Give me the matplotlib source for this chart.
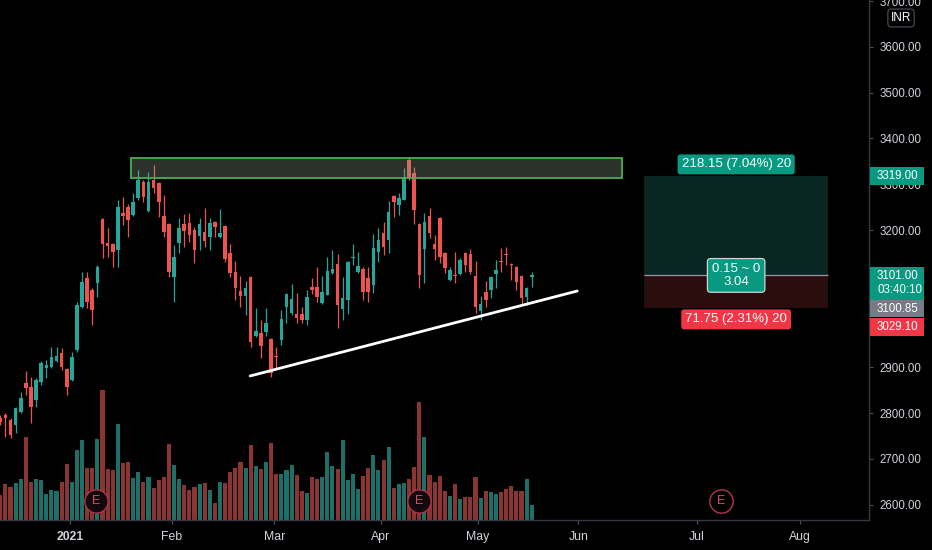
import matplotlib
matplotlib.use('Agg')
import matplotlib.pyplot as plt
import matplotlib.transforms as mtransforms
from matplotlib.patches import Rectangle
from matplotlib.ticker import FormatStrFormatter
import numpy as np

# ---------------------------------------------------------------- data
# daily candles, mid Dec 2020 -> mid May 2021
opens = [2790, 2796, 2785, 2774, 2803, 2866, 2857, 2829, 2868, 2899,
         2901, 2914, 2931, 2897, 2872, 2938, 3032, 3095, 3069, 3084,
         3224, 3172, 3169, 3156, 3237, 3250, 3233, 3270, 3305, 3241,
         3309, 3303, 3231, 3213, 3097, 3172, 3213, 3215, 3200, 3187,
         3196, 3185, 3217, 3185, 3209, 3150, 3108, 3067, 3056, 3097,
         2969, 2975, 2977, 2962, 2925, 2960, 3032, 3019, 3017, 3017,
         3003, 3076, 3076, 3041, 3058, 3106, 3126, 3027, 3047, 3139,
         3108, 3115, 3095, 3080, 3152, 3193, 3178, 3274, 3255, 3265,
         3353, 3324, 3213, 3158, 3231, 3169, 3226, 3150, 3091, 3102,
         3104, 3150, 3148, 3100, 3023, 3065, 3069, 3104, 3132, 3148,
         3126, 3119, 3100, 3054, 3097]
highs = [2796, 2800, 2789, 2813, 2846, 2892, 2879, 2877, 2914, 2916,
         2945, 2945, 2942, 2899, 2934, 3043, 3108, 3108, 3073, 3124,
         3226, 3204, 3172, 3265, 3272, 3257, 3281, 3331, 3309, 3327,
         3342, 3305, 3276, 3215, 3167, 3226, 3235, 3237, 3206, 3226,
         3248, 3226, 3220, 3246, 3210, 3169, 3132, 3100, 3089, 3099,
         3030, 3003, 3030, 2964, 2945, 3025, 3062, 3082, 3062, 3032,
         3069, 3095, 3119, 3100, 3141, 3156, 3148, 3097, 3132, 3169,
         3152, 3119, 3119, 3191, 3204, 3217, 3263, 3276, 3281, 3335,
         3360, 3337, 3215, 3237, 3248, 3189, 3228, 3152, 3119, 3152,
         3139, 3152, 3158, 3132, 3056, 3089, 3100, 3134, 3161, 3163,
         3128, 3121, 3101, 3076, 3108]
lows = [2774, 2748, 2746, 2757, 2800, 2840, 2779, 2814, 2862, 2877,
        2899, 2912, 2894, 2840, 2870, 2934, 3030, 3030, 2993, 3054,
        3139, 3141, 3119, 3119, 3211, 3185, 3231, 3265, 3261, 3239,
        3281, 3228, 3185, 3097, 3043, 3150, 3163, 3174, 3128, 3156,
        3163, 3156, 3185, 3182, 3130, 3097, 3047, 3032, 3014, 2945,
        2966, 2921, 2969, 2879, 2899, 2949, 2997, 3014, 2997, 2997,
        2993, 3060, 3043, 3038, 3058, 3104, 2986, 3003, 3017, 3124,
        3106, 3047, 3043, 3062, 3130, 3145, 3150, 3228, 3233, 3265,
        3309, 3213, 3073, 3084, 3182, 3134, 3128, 3106, 3089, 3084,
        3102, 3108, 3104, 3019, 3003, 3032, 3052, 3073, 3108, 3124,
        3091, 3069, 3038, 3036, 3076]
closes = [2781, 2790, 2752, 2811, 2833, 2855, 2814, 2872, 2910, 2905,
          2923, 2925, 2901, 2857, 2923, 3036, 3086, 3043, 3025, 3119,
          3169, 3165, 3152, 3250, 3231, 3222, 3261, 3309, 3272, 3305,
          3292, 3261, 3196, 3108, 3141, 3204, 3198, 3189, 3156, 3213,
          3176, 3215, 3206, 3193, 3137, 3106, 3073, 3056, 3073, 2955,
          2980, 2947, 2997, 2888, 2923, 3006, 3060, 3049, 3008, 3003,
          3054, 3069, 3054, 3065, 3110, 3115, 3036, 3052, 3130, 3141,
          3121, 3065, 3065, 3161, 3178, 3163, 3239, 3261, 3270, 3316,
          3313, 3244, 3102, 3217, 3193, 3158, 3141, 3117, 3113, 3100,
          3134, 3124, 3108, 3032, 3038, 3047, 3097, 3113, 3130, 3145,
          3124, 3086, 3052, 3073, 3101]
volume = [75, 107, 100, 110, 123, 250, 115, 123, 120, 77,
          90, 87, 113, 168, 113, 210, 240, 155, 155, 244,
          390, 152, 150, 287, 172, 175, 125, 145, 115, 128,
          95, 120, 128, 228, 165, 123, 105, 90, 98, 107,
          112, 90, 50, 115, 112, 145, 155, 175, 155, 225,
          162, 152, 175, 230, 138, 138, 150, 165, 135, 87,
          82, 128, 123, 128, 205, 162, 152, 240, 120, 138,
          93, 132, 155, 195, 150, 180, 220, 97, 107, 110,
          123, 158, 355, 250, 135, 113, 132, 87, 72, 107,
          63, 70, 70, 128, 67, 87, 83, 77, 83, 93,
          103, 87, 87, 123, 44]

# month ticks (bar index of first session, future ones extrapolated)
month_labels = ['2021', 'Feb', 'Mar', 'Apr', 'May', 'Jun', 'Jul', 'Aug']
month_pos = [13.6, 33.6, 53.6, 74.5, 93.5, 113.1, 136.3, 156.5]
earnings_pos = [18.8, 82.0, 141.0]

# drawings
zone_x = [25.6, 121.7]
zone_price = [3313.5, 3357.2]
trend_x = [48.9, 112.9]
trend_price = [2881.3, 3066.8]

# long position tool
pos_x = [126.0, 162.0]
entry = 3100.85
target = 3319.00
stop = 3029.10
last_price = 3101.00
countdown = '03:40:10'
qty = 20

price_ticks = list(range(2600, 3800, 100))

# ---------------------------------------------------------------- style
W, H = 932, 550
BG = 'black'
UP, DOWN = '#26a69a', '#ef5350'
UP_VOL, DOWN_VOL = '#1d6f67', '#8a3532'
TXT = '#d1d4dc'
AXFS = 8.3
plt.rcParams['font.family'] = ['Liberation Sans', 'DejaVu Sans']

fig = plt.figure(figsize=(W / 100, H / 100), dpi=100, facecolor=BG)
rect = [0, (H - 520) / H, 869 / W, 520 / H]
axv = fig.add_axes(rect, zorder=0)
ax = fig.add_axes(rect, zorder=1, sharex=axv)
ax.patch.set_alpha(0)
axv.set_facecolor(BG)

n = len(closes)
x = np.arange(n)
o = np.array(opens, float)
h = np.array(highs, float)
l = np.array(lows, float)
c = np.array(closes, float)
up = c >= o
cols = np.where(up, UP, DOWN)

# volume pane (overlay, bottom)
axv.bar(x, volume, width=0.8, color=np.where(up, UP_VOL, DOWN_VOL), linewidth=0)
axv.set_ylim(0, 1560)
axv.axis('off')

# candles
ax.vlines(x, l, h, colors=cols, linewidth=0.9, zorder=2)
body = np.maximum(np.abs(c - o), 2.2)
ax.bar(x, body, bottom=np.minimum(o, c), width=0.7, color=cols, linewidth=0, zorder=3)

# resistance zone
ax.add_patch(Rectangle((zone_x[0], zone_price[0]), zone_x[1] - zone_x[0], zone_price[1] - zone_price[0],
                       facecolor=(0.55, 0.65, 0.55, 0.3), edgecolor='#4caf50', linewidth=1.3, zorder=4))
# rising trend line
ax.plot(trend_x, trend_price, color='white', linewidth=2, solid_capstyle='round', zorder=4)

# position tool
ax.add_patch(Rectangle((pos_x[0], entry), pos_x[1] - pos_x[0], target - entry,
                       facecolor='#0a2623', linewidth=0, zorder=1))
ax.add_patch(Rectangle((pos_x[0], stop), pos_x[1] - pos_x[0], entry - stop,
                       facecolor='#2a0e0e', linewidth=0, zorder=1))
ax.hlines(entry, pos_x[0], pos_x[1], color='#9598a1', linewidth=0.9, zorder=2)
mid = (pos_x[0] + pos_x[1]) / 2
ax.annotate(f'{target - entry:.2f} ({(target - entry) / entry * 100:.2f}%) {qty}', (mid, target),
            xytext=(0, 8), textcoords='offset points', ha='center', va='center', color='white',
            fontsize=9.5, zorder=6,
            bbox=dict(boxstyle='round,pad=0.3,rounding_size=0.2', facecolor='#089981', edgecolor='none'))
ax.annotate(f'{entry - stop:.2f} ({(entry - stop) / entry * 100:.2f}%) {qty}', (mid, stop),
            xytext=(0, -8), textcoords='offset points', ha='center', va='center', color='white',
            fontsize=9.5, zorder=6,
            bbox=dict(boxstyle='round,pad=0.3,rounding_size=0.2', facecolor='#f23645', edgecolor='none'))
ax.annotate(f'{last_price - entry:.2f} ~ 0\n{(target - entry) / (entry - stop):.2f}', (mid, entry),
            ha='center', va='center', color='white', fontsize=9.5, linespacing=1.05, zorder=6,
            bbox=dict(boxstyle='round,pad=0.35,rounding_size=0.25', facecolor='#089981',
                      edgecolor='#d1d4dc', linewidth=0.9))

# earnings markers
blend = mtransforms.blended_transform_factory(ax.transData, ax.transAxes)
for ex in earnings_pos:
    face = '#14080c' if ex < n else BG
    ax.plot([ex], [0.0365], marker='o', markersize=16.8, markerfacecolor=face,
            markeredgecolor='#b3344f', markeredgewidth=1.0, linestyle='none',
            transform=blend, clip_on=False, zorder=5)
    ax.text(ex, 0.0365, 'E', transform=blend, ha='center', va='center', color='#d0506a',
            fontsize=9, zorder=6)

# axes
ax.set_xlim(-0.06, 170.0)
ax.set_ylim(2566.8, 3702.2)
ax.yaxis.tick_right()
ax.set_yticks(price_ticks)
ax.yaxis.set_major_formatter(FormatStrFormatter('%.2f'))
ax.set_xticks(month_pos)
ax.set_xticklabels(month_labels)
ax.get_xticklabels()[0].set_fontweight('bold')
ax.get_xticklabels()[0].set_color('white')
ax.tick_params(axis='y', direction='out', length=3, width=0.8, color='#50535e',
               labelcolor=TXT, labelsize=AXFS, pad=4.5)
ax.tick_params(axis='x', direction='out', length=3, width=0.8, color='#50535e',
               labelcolor=TXT, labelsize=8.8, pad=5)
for side in ['top', 'left']:
    ax.spines[side].set_visible(False)
for side in ['bottom', 'right']:
    ax.spines[side].set_color('#363a45')
    ax.spines[side].set_linewidth(1.0)

# price badges on the scale
fig.canvas.draw()


def price_to_px(p):
    return H - ax.transData.transform((0, p))[1]


spans = []


def badge(top, height, text, color):
    fig.add_artist(Rectangle((870 / W, 1 - (top + height) / H), 54 / W, height / H,
                             transform=fig.transFigure, facecolor=color, edgecolor='none', zorder=5))
    fig.text(877 / W, 1 - (top + height / 2) / H, text, ha='left', va='center', color='white',
             fontsize=AXFS, linespacing=1.25, zorder=6)
    spans.append((top, top + height))
    return top + height


badge(price_to_px(target) - 9, 18, f'{target:.2f}', '#089981')
bot = badge(price_to_px(last_price) - 8.5, 33, f'{last_price:.2f}\n{countdown}', '#089981')
bot = badge(max(bot + 0.5, price_to_px(entry) - 8.5), 17, f'{entry:.2f}', '#787b86')
badge(max(bot + 0.5, price_to_px(stop) - 8.5), 18, f'{stop:.2f}', '#f23645')

# scale labels fully covered by a badge are not visible on the chart
for p, lab in zip(price_ticks, ax.get_yticklabels()):
    yp = price_to_px(p)
    if any(t - 2 <= yp <= b + 2 for t, b in spans[1:]):
        lab.set_visible(False)

# currency tag
fig.text(901 / W, 1 - 18 / H, 'INR', ha='center', va='center', color='white', fontsize=8.5,
         bbox=dict(boxstyle='round,pad=0.25,rounding_size=0.3', facecolor=BG, edgecolor='#50535e',
                   linewidth=0.8), zorder=6)

fig.savefig('out.png', dpi=100, facecolor=BG)
